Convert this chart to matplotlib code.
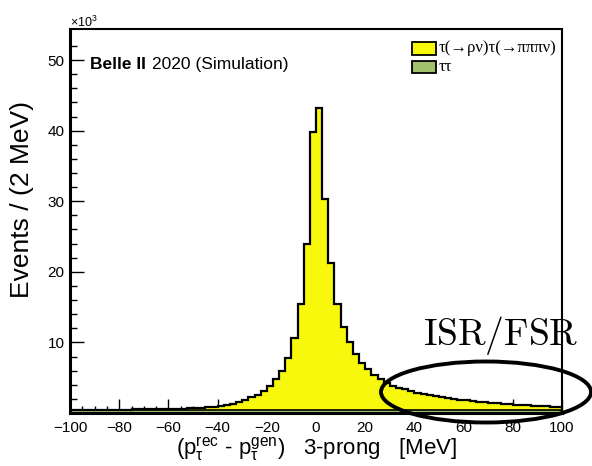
import numpy as np
import matplotlib
matplotlib.use("Agg")
import matplotlib.pyplot as plt
from matplotlib.patches import Ellipse, Rectangle

plt.rcParams['font.family'] = ['Liberation Sans', 'DejaVu Sans']
plt.rcParams['mathtext.fontset'] = 'custom'
plt.rcParams['mathtext.rm'] = 'Liberation Sans'
plt.rcParams['mathtext.it'] = 'Liberation Sans'
plt.rcParams['mathtext.bf'] = 'Liberation Sans:bold'

# Momentum resolution, 3-prong side, bins of 2.5 MeV from -100 to 100 MeV
x_low, x_high, bin_width = -100.0, 100.0, 2.5

# Other tau-pair decays (stacked at the bottom), events per bin in units of 10^3
tautau_k = [
    0.45, 0.45, 0.45, 0.45, 0.45, 0.45, 0.45, 0.45, 0.45, 0.45,
    0.45, 0.45, 0.45, 0.45, 0.45, 0.45, 0.45, 0.45, 0.45, 0.45,
    0.45, 0.45, 0.45, 0.45, 0.45, 0.45, 0.45, 0.45, 0.45, 0.45,
    0.45, 0.45, 0.45, 0.45, 0.45, 0.45, 0.45, 0.45, 0.45, 0.45,
    0.45, 0.45, 0.45, 0.45, 0.45, 0.45, 0.45, 0.45, 0.45, 0.45,
    0.45, 0.45, 0.45, 0.45, 0.45, 0.45, 0.45, 0.45, 0.45, 0.45,
    0.45, 0.45, 0.45, 0.45, 0.45, 0.45, 0.45, 0.45, 0.45, 0.45,
    0.45, 0.45, 0.45, 0.45, 0.45, 0.45, 0.45, 0.45, 0.45, 0.45,
]

# Signal tau(->rho nu) tau(->3pi nu), events per bin in units of 10^3
signal_k = [
    0.00, 0.00, 0.01, 0.01, 0.02, 0.02, 0.03, 0.03, 0.04, 0.04,
    0.05, 0.06, 0.07, 0.08, 0.09, 0.11, 0.13, 0.15, 0.17, 0.20,
    0.23, 0.28, 0.35, 0.45, 0.55, 0.67, 0.85, 1.15, 1.40, 1.75,
    2.10, 2.65, 3.35, 4.35, 5.55, 7.40, 10.15, 14.95, 23.55, 39.35,
    42.75, 29.85, 20.85, 15.05, 11.75, 9.55, 7.85, 6.65, 5.75, 4.95,
    4.35, 3.85, 3.40, 3.15, 2.90, 2.65, 2.45, 2.25, 2.10, 1.95,
    1.80, 1.65, 1.55, 1.45, 1.35, 1.25, 1.15, 1.07, 1.00, 0.93,
    0.87, 0.81, 0.75, 0.70, 0.65, 0.60, 0.55, 0.50, 0.45, 0.41,
]

legend_labels = ["τ(→ρν)τ(→πππν)", "ττ"]
x_ticks = [-100, -80, -60, -40, -20, 0, 20, 40, 60, 80, 100]
y_ticks = [10, 20, 30, 40, 50]

yellow = "#f8f80c"
green = "#a2c06e"

W, H = 592, 466
fig = plt.figure(figsize=(W / 100, H / 100), dpi=100)
ax = fig.add_axes([70 / W, (H - 413) / H, 492 / W, 384 / H])

edges = np.arange(x_low, x_high + bin_width / 2, bin_width)
bkg = np.asarray(tautau_k)
total = bkg + np.asarray(signal_k)

# stacked histogram: background first, signal on top of it
ax.stairs(total, edges, baseline=bkg, fill=True, color=yellow, zorder=2)
ax.stairs(total, edges, color="black", linewidth=1.6, zorder=3)
ax.stairs(bkg, edges, fill=True, color=green, zorder=2)
ax.stairs(bkg, edges, color="black", linewidth=1.2, zorder=3)

ax.set_xlim(x_low, x_high)
ax.set_ylim(0, 54.4)

ax.set_xticks(x_ticks)
ax.set_xticks(np.arange(-100, 101, 5), minor=True)
ax.set_yticks(y_ticks)
ax.set_yticks(np.arange(0, 54, 2), minor=True)
ax.tick_params(axis="both", which="major", direction="in", length=10, width=1.0,
               labelsize=11, pad=4)
ax.tick_params(axis="both", which="minor", direction="in", length=5, width=1.0)
ax.tick_params(axis="x", which="major", pad=6)
for side in ["left", "bottom"]:
    ax.spines[side].set_linewidth(2.2)
for side in ["top", "right"]:
    ax.spines[side].set_linewidth(1.5)
for s in ax.spines.values():
    s.set_zorder(5)

# exponent marker for the y axis
fig.text(70 / W, (H - 27) / H, r"$\times10^{3}$", fontsize=9, ha="left", va="baseline")

# experiment label
fig.text(90 / W, (H - 69) / H, "Belle II", fontsize=12.5, fontweight="bold",
         ha="left", va="baseline")
fig.text(152 / W, (H - 69) / H, "2020 (Simulation)", fontsize=12.5,
         ha="left", va="baseline")

# legend
for (y0, y1), col, lab in zip([(42, 55), (61, 73)], [yellow, green], legend_labels):
    fig.patches.append(Rectangle((412 / W, (H - y1) / H), 24 / W, (y1 - y0) / H,
                                 transform=fig.transFigure, facecolor=col,
                                 edgecolor="black", linewidth=1.3))
    fig.text(439 / W, (H - (y0 + y1) / 2) / H, lab, fontsize=12,
             family=["Liberation Serif", "DejaVu Serif"], ha="left", va="center")

# axis titles
fig.text(22 / W, (H - 200) / H, "Events / (2 MeV)", fontsize=19, rotation=90,
         ha="center", va="center")
fig.text(316 / W, (H - 455) / H,
         r"$(\mathrm{p}_{\tau}^{\mathrm{rec}}$ - $\mathrm{p}_{\tau}^{\mathrm{gen}})$   3-prong   [MeV]",
         fontsize=16, ha="center", va="baseline")

# radiative tail annotation
fig.text(423 / W, (H - 345) / H, r"$\mathrm{ISR/FSR}$", fontsize=27,
         math_fontfamily="cm", ha="left", va="baseline")
fig.patches.append(Ellipse((486 / W, (H - 392) / H), 210 / W, 61 / H,
                           transform=fig.transFigure, fill=False,
                           edgecolor="black", linewidth=2.8))

fig.savefig("out.png", dpi=100)
